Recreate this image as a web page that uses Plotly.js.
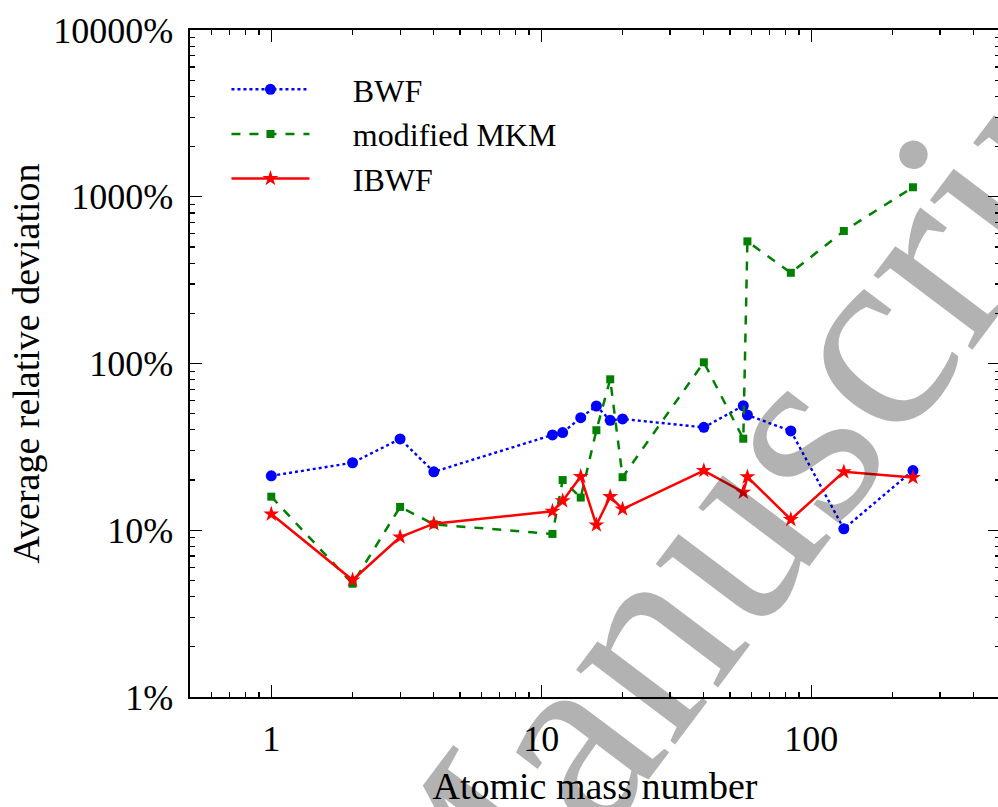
<!DOCTYPE html>
<html>
<head>
<meta charset="utf-8">
<script src="https://cdn.plot.ly/plotly-3.0.1.min.js"></script>
<style>
  html, body { margin: 0; padding: 0; overflow: hidden; background: #fff; }
  #chart { width: 1010px; height: 807px; }
</style>
</head>
<body>
<div id="chart"></div>
<script>
// Atomic mass numbers of the nuclei studied
const massNumbers = [1, 2, 3, 4, 11, 12, 14, 16, 18, 20, 40, 56, 58, 84, 132, 238];

// Average relative deviation (%) of each model
const bwf = [21.2, 25.4, 35.3, 22.4, 37.3, 38.5, 47.3, 55.6, 45.6, 46.5, 41.4, 55.8, 49.1, 39.4, 10.2, 22.8];
const modifiedMkm = [15.9, 4.78, 13.8, 10.85, 9.5, 20.0, 15.7, 39.8, 80.4, 20.8, 101.7, 35.4, 540, 350, 623, 1140];
const ibwf = [12.5, 5.03, 9.11, 10.95, 13.0, 15.0, 21.0, 10.75, 15.9, 13.4, 22.8, 16.9, 20.9, 11.6, 22.4, 20.7];

// Series names shown in the legend
const seriesNames = ['BWF', 'modified MKM', 'IBWF'];

// Axis tick labels
const xTickVals = [1, 10, 100];
const xTickText = ['1', '10', '100'];
const yTickVals = [1, 10, 100, 1000, 10000];
const yTickText = ['1%', '10%', '100%', '1000%', '10000%'];

const serif = '"Liberation Serif", "Times New Roman", serif';

// minor ticks at 2..9 of each decade inside a range
function minorTicks(lo, hi) {
  const out = [];
  for (let e = -1; e <= 4; e++) {
    for (let d = 2; d <= 9; d++) {
      const v = d * Math.pow(10, e);
      if (v > lo && v < hi) out.push(v);
    }
  }
  return out;
}

// gap between the legend sample line and its label
const legendGap = '\u2003\u2009';

const traces = [
  {
    x: massNumbers, y: bwf, name: legendGap + seriesNames[0], type: 'scatter', mode: 'lines+markers',
    line: { color: '#0000ff', width: 2.4, dash: 'dot' },
    marker: { color: '#0000ff', symbol: 'circle', size: 11 }
  },
  {
    x: massNumbers, y: modifiedMkm, name: legendGap + seriesNames[1], type: 'scatter', mode: 'lines+markers',
    line: { color: '#008000', width: 2.5, dash: 'dash' },
    marker: { color: '#008000', symbol: 'square', size: 8 }
  },
  {
    x: massNumbers, y: ibwf, name: legendGap + seriesNames[2], type: 'scatter', mode: 'lines+markers',
    line: { color: '#ff0000', width: 2.5 },
    marker: { color: '#ff0000', symbol: 'star', size: 12 }
  }
];

const axisCommon = {
  type: 'log',
  showgrid: false,
  zeroline: false,
  showline: true,
  linecolor: '#000',
  linewidth: 1.6,
  mirror: 'ticks',
  ticks: 'inside',
  ticklen: 12,
  tickwidth: 1.4,
  tickcolor: '#000',
  tickmode: 'array',
  tickfont: { family: serif, size: 36, color: '#000' }
};

const layout = {
  width: 1010,
  height: 807,
  margin: { l: 190, r: 10, t: 30, b: 110 },
  paper_bgcolor: '#fff',
  plot_bgcolor: '#fff',
  font: { family: serif, color: '#000' },
  showlegend: true,
  legend: {
    x: 0.045, y: 0.952, xanchor: 'left', yanchor: 'top',
    bgcolor: 'rgba(0,0,0,0)',
    font: { family: serif, size: 32, color: '#000' },
    itemwidth: 78
  },
  xaxis: Object.assign({}, axisCommon, {
    range: [Math.log10(0.5), Math.log10(500)],
    tickvals: xTickVals,
    ticktext: xTickText,
    ticklabelstandoff: 9,
    minor: { ticks: 'inside', ticklen: 5, tickwidth: 1.2, tickcolor: '#000', tickmode: 'array', tickvals: minorTicks(0.5, 500), showgrid: false },
    title: { text: 'Atomic mass number', font: { family: serif, size: 38, color: '#000' }, standoff: 20 }
  }),
  yaxis: Object.assign({}, axisCommon, {
    range: [0, 4],
    tickvals: yTickVals,
    ticktext: yTickText,
    ticklabelstandoff: 8,
    minor: { ticks: 'inside', ticklen: 5, tickwidth: 1.2, tickcolor: '#000', tickmode: 'array', tickvals: minorTicks(1, 10000), showgrid: false },
    title: { text: 'Average relative deviation', font: { family: serif, size: 38, color: '#000' }, standoff: 2 }
  }),
  annotations: [
    {
      // diagonal watermark drawn over the plot
      text: 'Manuscript',
      xref: 'paper', yref: 'paper',
      x: 0.695, y: 0.31,
      xanchor: 'center', yanchor: 'middle',
      showarrow: false,
      textangle: -53,
      font: { family: serif, size: 270, color: 'rgba(0,0,0,0.3)' }
    }
  ]
};

Plotly.newPlot('chart', traces, layout, { displayModeBar: false, staticPlot: true });
</script>
</body>
</html>
